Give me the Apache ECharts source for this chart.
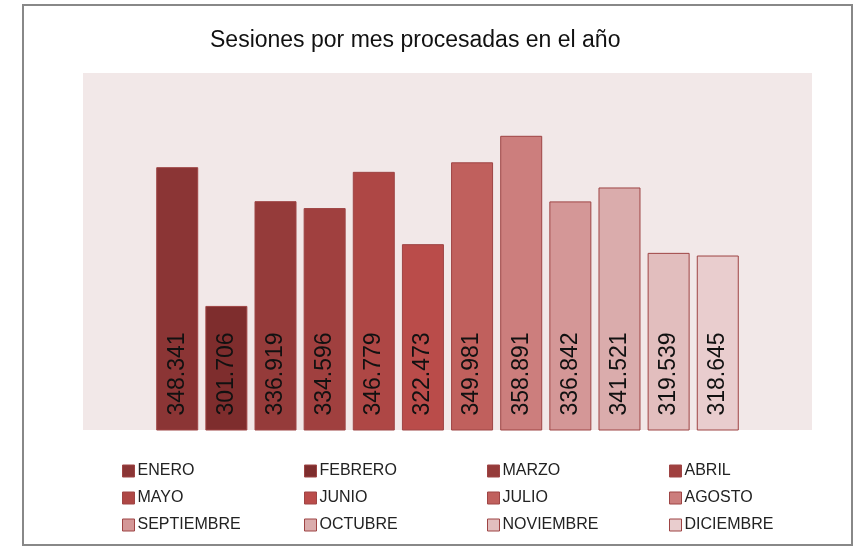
<!DOCTYPE html>
<html>
<head>
    <meta charset="utf-8">
    <title>Sesiones por mes</title>
    <script src="https://cdn.jsdelivr.net/npm/echarts@6/dist/echarts.min.js"></script>
</head>
<body style="margin:0">
    <div id="main" style="width: 861px;height:548px;"></div>
    <script type="text/javascript">
        // datos
        var months = ['ENERO', 'FEBRERO', 'MARZO', 'ABRIL', 'MAYO', 'JUNIO', 'JULIO', 'AGOSTO',
            'SEPTIEMBRE', 'OCTUBRE', 'NOVIEMBRE', 'DICIEMBRE'];
        var sessions = [348341, 301706, 336919, 334596, 346779, 322473, 349981, 358891,
            336842, 341521, 319539, 318645];
        var colors = ['#8B3535', '#7E2D2D', '#953B3A', '#A0403F', '#AE4745', '#BA4C4A',
            '#C0605D', '#CC7E7D', '#D49797', '#DAACAC', '#E2BEBE', '#E9CDCE'];

        var font = "'Liberation Sans', Arial, sans-serif";

        function fmt(v) {
            return String(v).replace(/\B(?=(\d{3})+(?!\d))/g, '.');
        }

        var series = months.map(function (m, i) {
            return {
                name: m,
                type: 'bar',
                barWidth: 42,
                barGap: '17%',
                data: [sessions[i]],
                itemStyle: { color: colors[i], borderColor: '#9E4444', borderWidth: 1 },
                label: {
                    show: true,
                    position: 'insideBottom',
                    rotate: 90,
                    align: 'left',
                    verticalAlign: 'middle',
                    distance: 15,
                    color: '#111',
                    fontFamily: font,
                    fontSize: 23,
                    formatter: function (p) { return fmt(p.value); }
                }
            };
        });

        // leyenda en 4 columnas
        var colX = [122, 304, 487, 669];
        var legends = colX.map(function (x, c) {
            return {
                orient: 'vertical',
                left: x,
                top: 463,
                itemGap: 11,
                itemWidth: 12,
                itemHeight: 12,
                icon: 'rect',
                selectedMode: false,
                padding: 0,
                data: [months[c], months[c + 4], months[c + 8]],
                textStyle: { fontFamily: font, fontSize: 16, color: '#222', padding: [0, 0, 0, -2] },
                itemStyle: { borderColor: '#9E4444', borderWidth: 1 }
            };
        });

        var chart = echarts.init(document.getElementById('main'));
        chart.setOption({
            animation: false,
            backgroundColor: '#fff',
            title: {
                text: 'Sesiones por mes procesadas en el año',
                left: 205,
                top: 24,
                textStyle: { fontFamily: font, fontSize: 23, fontWeight: 'normal', color: '#111' }
            },
            graphic: [{
                type: 'rect',
                shape: { x: 23, y: 5, width: 829, height: 540 },
                style: { fill: 'none', stroke: '#888', lineWidth: 2 }
            }],
            legend: legends,
            grid: {
                left: 83, right: 49, top: 73, bottom: 118,
                show: true, backgroundColor: '#F2E8E8', borderWidth: 0
            },
            xAxis: {
                type: 'category',
                data: [''],
                axisLine: { show: false },
                axisTick: { show: false },
                axisLabel: { show: false }
            },
            yAxis: {
                type: 'value',
                min: 260000,
                max: 380000,
                show: false,
                splitLine: { show: false }
            },
            series: series
        });
    </script>
</body>
</html>
